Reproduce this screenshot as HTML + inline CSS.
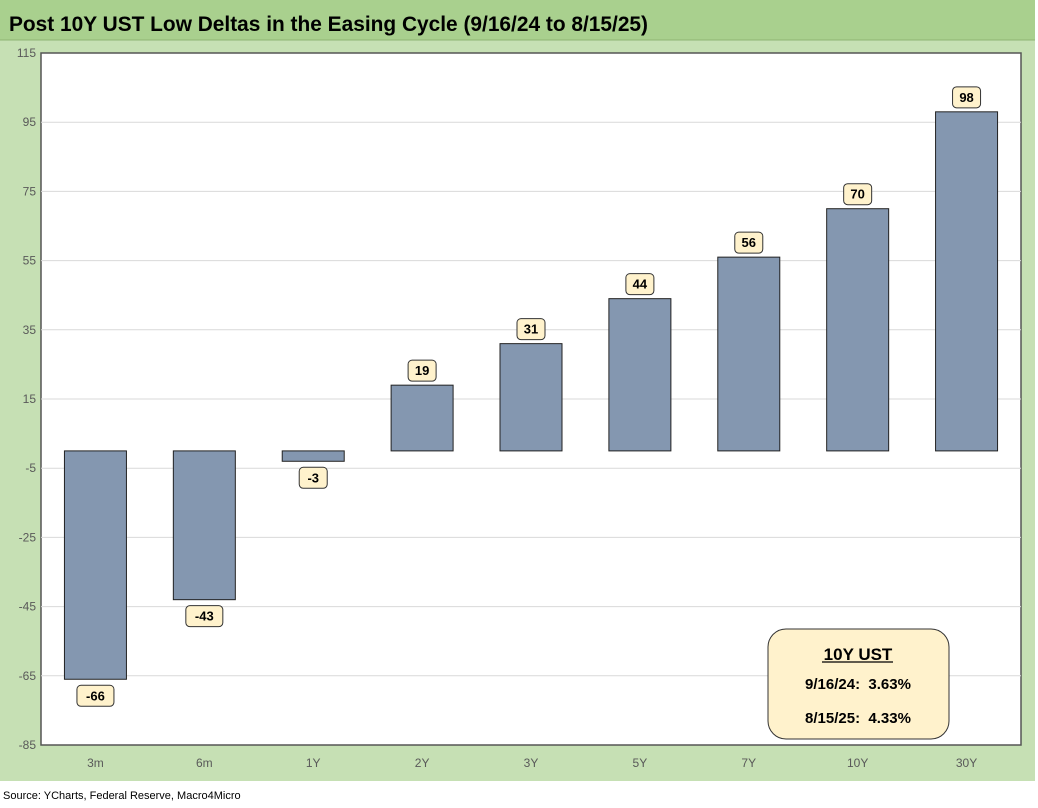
<!DOCTYPE html>
<html><head><meta charset="utf-8"><style>
body{margin:0;background:#fff;}
svg{display:block;font-family:"Liberation Sans",sans-serif;}
</style></head><body>
<svg width="1038" height="808" viewBox="0 0 1038 808">
<rect x="0" y="0" width="1035" height="781" fill="#c6e0b4"/>
<rect x="0" y="0" width="1035" height="40" fill="#a9d08e"/>
<line x1="0" y1="40" x2="1035" y2="40" stroke="#8fb573" stroke-width="1"/>
<text x="9" y="31" font-size="21" font-weight="bold" fill="#000" textLength="639" lengthAdjust="spacingAndGlyphs">Post 10Y UST Low Deltas in the Easing Cycle (9/16/24 to 8/15/25)</text>
<rect x="41" y="53" width="980" height="692" fill="#fff" stroke="#555" stroke-width="1.5"/>
<g id="grid"></g>
<g id="bars"></g>
<g id="labels"></g>
<g id="yticks"></g>
<g id="xticks"></g>
<g>
<rect x="768" y="629" width="181" height="110" rx="18" fill="#fff2cc" stroke="#333" stroke-width="1"/>
<text x="858" y="660" font-size="17" font-weight="bold" text-anchor="middle">10Y UST</text>
<line x1="822" y1="662" x2="893" y2="662" stroke="#000" stroke-width="1.2"/>
<text x="858" y="689" font-size="15" font-weight="bold" text-anchor="middle">9/16/24:&#160; 3.63%</text>
<text x="858" y="723" font-size="15" font-weight="bold" text-anchor="middle">8/15/25:&#160; 4.33%</text>
</g>
<text x="3" y="799" font-size="11" fill="#000">Source: YCharts, Federal Reserve, Macro4Micro</text>
</svg>
<script>
const categories=["3m","6m","1Y","2Y","3Y","5Y","7Y","10Y","30Y"];
const values=[-66,-43,-3,19,31,44,56,70,98];
const yTicks=[115,95,75,55,35,15,-5,-25,-45,-65,-85];
const NS="http://www.w3.org/2000/svg";
const plotL=41,plotR=1021,plotT=53,plotB=745,yMax=115,yMin=-85;
function y(v){return plotT+(yMax-v)/(yMax-yMin)*(plotB-plotT);}
const band=(plotR-plotL)/categories.length;
function xc(i){return plotL+band*(i+0.5);}
function mk(tag,attrs,parent){const e=document.createElementNS(NS,tag);for(const k in attrs)e.setAttribute(k,attrs[k]);document.getElementById(parent).appendChild(e);return e;}
yTicks.forEach(t=>{
  if(t!==yMax&&t!==yMin){const g=mk('line',{x1:plotL,x2:plotR,y1:y(t),y2:y(t),stroke:'#d9d9d9','stroke-width':1},'grid');
  
  }
  const tx=mk('text',{x:36,y:y(t)+4,'font-size':12,'text-anchor':'end',fill:'#595959'},'yticks');
  tx.textContent=t;
  
  
});
const bw=62;
categories.forEach((c,i)=>{
  const v=values[i];const y0=y(0),y1=y(v);
  const r=mk('rect',{x:xc(i)-bw/2,y:Math.min(y0,y1),width:bw,height:Math.max(1,Math.abs(y1-y0)),fill:'#8497b0',stroke:'#222','stroke-width':1},'bars');
  
  
  const lbl=String(v);const w=lbl.length*9+10;
  const cy=v>=0?y1-15:y1+16;
  const b=mk('rect',{x:xc(i)-w/2,y:cy-10,width:w,height:21,rx:4,fill:'#fff2cc',stroke:'#333','stroke-width':1},'labels');
  
  
  const t=mk('text',{x:xc(i),y:cy+5,'font-size':13,'font-weight':'bold','text-anchor':'middle'},'labels');
  t.textContent=lbl;
  
  
  const xt=mk('text',{x:xc(i),y:767,'font-size':12,'text-anchor':'middle',fill:'#595959'},'xticks');
  xt.textContent=c;
  
  
});
</script>
</body></html>
